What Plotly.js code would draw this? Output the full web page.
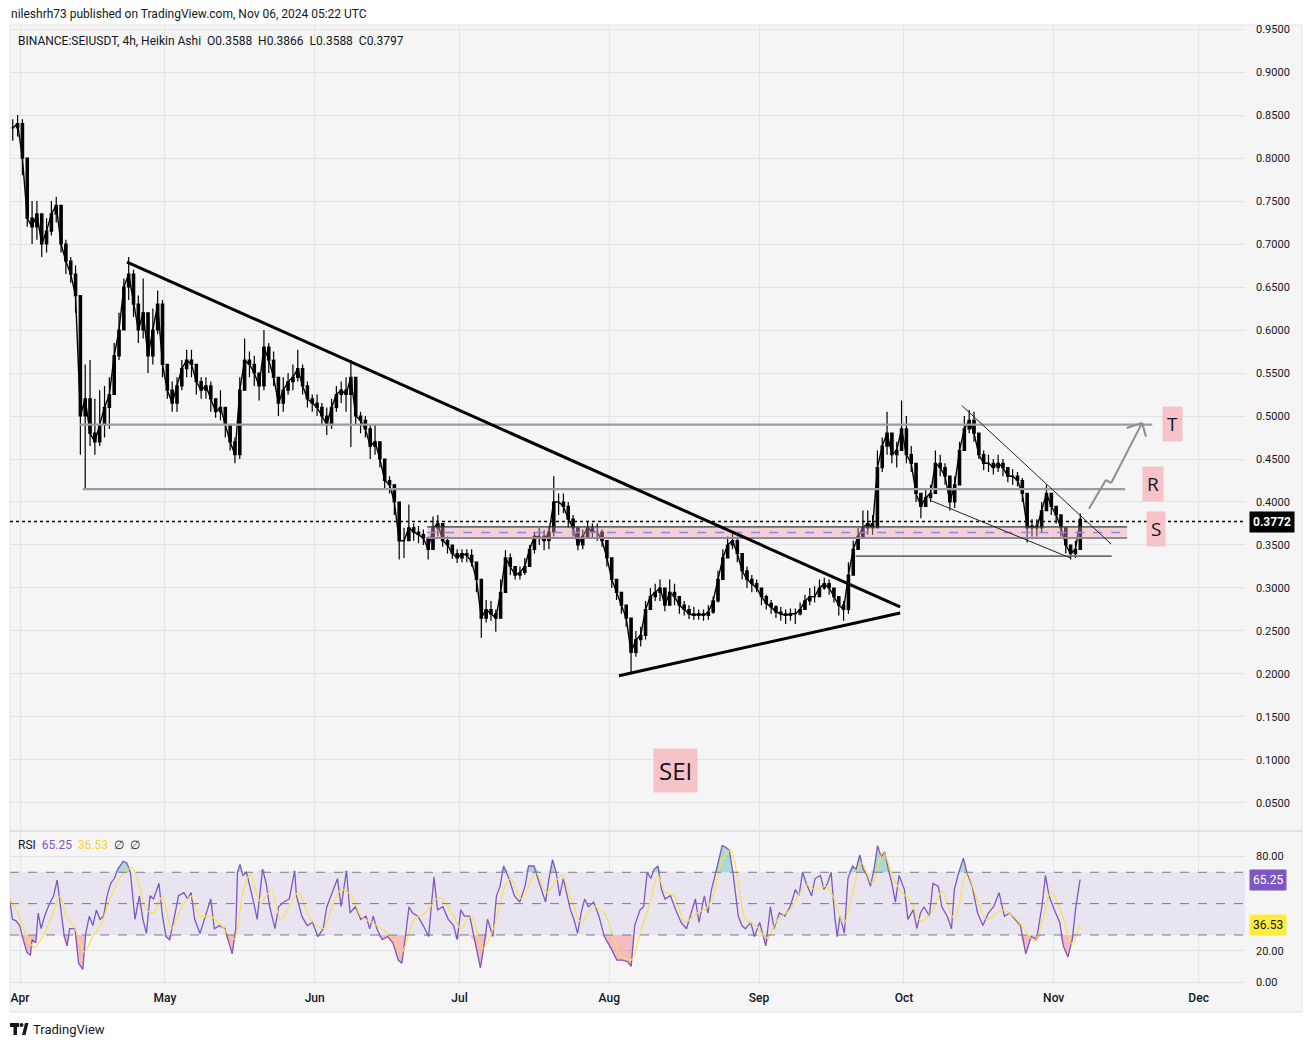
<!DOCTYPE html>
<html><head><meta charset="utf-8">
<script src="https://cdn.plot.ly/plotly-3.0.1.min.js"></script>
<style>html,body{margin:0;padding:0;background:#fff}#chart{width:1312px;height:1047px}</style>
</head><body><div id="chart"></div>
<script>
// ---- DATA (day offsets are days since 2024-04-01 UTC) ----
const firstDay = -2;
const closes = [0.835,0.84,0.80,0.73,0.72,0.735,0.70,0.715,0.735,0.745,0.70,0.68,0.665,0.64,0.50,0.52,0.48,0.47,0.49,0.51,
0.525,0.57,0.60,0.65,0.665,0.63,0.60,0.62,0.57,0.60,0.63,0.56,0.53,0.515,0.535,0.555,0.565,0.56,0.54,0.53,
0.535,0.52,0.505,0.51,0.49,0.47,0.455,0.53,0.565,0.56,0.55,0.535,0.58,0.565,0.545,0.515,0.53,0.54,0.545,0.555,
0.535,0.52,0.515,0.51,0.50,0.49,0.51,0.525,0.53,0.525,0.545,0.50,0.495,0.485,0.465,0.47,0.45,0.425,0.42,0.40,
0.355,0.355,0.37,0.365,0.362,0.358,0.345,0.37,0.375,0.355,0.35,0.34,0.335,0.34,0.338,0.33,0.31,0.265,0.275,0.27,
0.265,0.295,0.335,0.325,0.315,0.318,0.325,0.345,0.36,0.36,0.355,0.365,0.40,0.40,0.395,0.38,0.37,0.35,0.36,0.37,
0.365,0.365,0.355,0.335,0.31,0.295,0.28,0.265,0.225,0.24,0.245,0.275,0.29,0.295,0.30,0.28,0.295,0.29,0.28,0.275,
0.27,0.268,0.27,0.268,0.272,0.285,0.31,0.335,0.35,0.355,0.34,0.32,0.31,0.305,0.30,0.29,0.282,0.278,0.272,0.27,
0.268,0.27,0.27,0.275,0.285,0.29,0.29,0.30,0.305,0.30,0.29,0.28,0.275,0.315,0.345,0.36,0.37,0.375,0.37,0.44,
0.465,0.48,0.455,0.46,0.485,0.455,0.445,0.41,0.395,0.405,0.41,0.445,0.44,0.43,0.40,0.42,0.46,0.485,0.495,0.48,
0.455,0.445,0.445,0.44,0.445,0.44,0.43,0.43,0.425,0.41,0.37,0.372,0.37,0.39,0.41,0.395,0.385,0.37,0.35,0.34,
0.345,0.3797];
const highs = [0.845,0.85,0.845,0.79,0.75,0.75,0.735,0.73,0.75,0.755,0.745,0.705,0.685,0.675,0.64,0.56,0.565,0.52,0.53,0.535,
0.545,0.585,0.62,0.66,0.685,0.67,0.64,0.66,0.615,0.625,0.646,0.635,0.555,0.54,0.545,0.565,0.577,0.577,0.56,0.545,
0.545,0.54,0.52,0.53,0.51,0.49,0.475,0.545,0.59,0.575,0.57,0.55,0.60,0.585,0.575,0.535,0.545,0.55,0.56,0.577,
0.56,0.54,0.525,0.525,0.515,0.51,0.52,0.535,0.54,0.545,0.565,0.545,0.505,0.50,0.49,0.49,0.47,0.44,0.43,0.42,
0.39,0.37,0.397,0.375,0.372,0.368,0.36,0.383,0.385,0.37,0.36,0.35,0.345,0.345,0.345,0.345,0.33,0.30,0.286,0.285,
0.275,0.31,0.344,0.34,0.325,0.325,0.335,0.35,0.365,0.37,0.367,0.372,0.43,0.41,0.41,0.40,0.385,0.365,0.368,0.377,
0.375,0.375,0.368,0.35,0.325,0.31,0.29,0.28,0.26,0.25,0.255,0.285,0.30,0.305,0.31,0.295,0.31,0.305,0.29,0.285,
0.28,0.278,0.275,0.275,0.28,0.29,0.32,0.345,0.36,0.364,0.36,0.34,0.325,0.315,0.31,0.30,0.292,0.286,0.28,0.278,
0.275,0.276,0.276,0.283,0.292,0.30,0.302,0.31,0.312,0.31,0.30,0.29,0.285,0.33,0.355,0.37,0.39,0.39,0.385,0.46,
0.475,0.505,0.48,0.47,0.518,0.50,0.465,0.445,0.41,0.415,0.42,0.46,0.455,0.445,0.43,0.43,0.47,0.50,0.507,0.505,
0.48,0.46,0.455,0.45,0.455,0.45,0.44,0.438,0.435,0.428,0.40,0.38,0.38,0.40,0.42,0.41,0.395,0.385,0.37,0.35,
0.355,0.3866];
const lows = [0.82,0.825,0.78,0.72,0.70,0.705,0.685,0.69,0.71,0.725,0.69,0.665,0.655,0.62,0.455,0.416,0.465,0.455,0.465,0.475,
0.485,0.53,0.565,0.60,0.635,0.615,0.585,0.59,0.55,0.56,0.595,0.545,0.52,0.505,0.505,0.53,0.545,0.545,0.525,0.52,
0.52,0.505,0.498,0.495,0.475,0.46,0.445,0.45,0.53,0.545,0.535,0.518,0.53,0.55,0.535,0.50,0.505,0.525,0.53,0.54,
0.525,0.51,0.505,0.50,0.49,0.478,0.485,0.505,0.515,0.505,0.464,0.49,0.48,0.475,0.45,0.455,0.44,0.415,0.41,0.385,
0.333,0.335,0.355,0.355,0.352,0.35,0.333,0.355,0.36,0.348,0.34,0.334,0.329,0.33,0.33,0.325,0.295,0.242,0.26,0.262,
0.249,0.27,0.30,0.315,0.31,0.31,0.315,0.325,0.34,0.35,0.344,0.345,0.36,0.385,0.387,0.37,0.36,0.344,0.345,0.36,
0.358,0.355,0.348,0.325,0.30,0.286,0.27,0.255,0.202,0.22,0.232,0.24,0.275,0.285,0.285,0.273,0.28,0.28,0.27,0.268,
0.264,0.263,0.263,0.262,0.263,0.27,0.283,0.315,0.338,0.345,0.33,0.31,0.30,0.295,0.295,0.28,0.275,0.27,0.265,0.262,
0.258,0.262,0.258,0.268,0.275,0.28,0.283,0.29,0.298,0.292,0.283,0.268,0.262,0.27,0.32,0.345,0.36,0.362,0.362,0.37,
0.435,0.455,0.445,0.44,0.46,0.445,0.435,0.40,0.381,0.395,0.40,0.41,0.43,0.42,0.39,0.393,0.42,0.465,0.48,0.47,
0.45,0.437,0.435,0.432,0.435,0.43,0.423,0.42,0.418,0.40,0.353,0.36,0.36,0.365,0.395,0.385,0.375,0.36,0.34,0.333,
0.335,0.3588];

const rsiDays = [-2.29,-1.55,-0.81,-0.07,0.67,1.41,2.15,2.51,3.25,3.77,4.36,5.10,5.84,6.95,7.69,8.43,9.17,9.76,10.28,11.39,
12.13,13.01,13.61,14.35,15.08,15.82,16.56,17.30,18.04,18.78,19.52,20.26,21.37,22.11,22.85,23.81,24.70,25.44,26.18,26.92,
27.66,28.76,29.50,30.24,30.98,31.72,32.83,33.94,34.68,35.42,36.16,37.27,38.38,39.49,40.23,41.33,42.44,43.55,43.92,44.66,
45.03,45.55,46.14,46.88,47.62,48.36,49.10,50.21,50.95,51.69,52.79,53.53,54.64,55.75,56.86,57.23,58.34,59.45,60.56,61.67,
62.78,63.52,64.63,65.74,66.48,67.58,68.32,69.43,70.54,71.65,72.39,73.13,73.87,74.98,76.09,77.20,78.31,79.05,79.79,80.53,
81.27,82.37,83.48,84.59,85.70,86.44,87.55,88.66,89.77,90.51,91.25,91.99,93.10,94.20,95.31,96.05,96.79,97.90,98.64,99.38,
100.12,101.23,102.34,103.45,104.55,105.29,106.40,107.51,108.8,109.51,110.25,110.99,111.73,112.47,113.21,113.95,114.68,115.42,116.16,116.90,
117.64,118.75,119.86,120.97,121.71,122.45,123.56,124.67,125.78,126.52,127.25,128.36,129.10,129.84,130.58,131.32,132.06,132.80,133.54,134.65,
135.76,136.87,137.98,138.72,139.82,140.56,141.67,142.41,143.15,143.89,144.63,145.37,146.11,146.85,147.59,148.18,148.70,149.44,150.18,151.29,
152.03,153.13,153.87,154.39,155.35,156.09,157.20,158.31,159.42,160.53,161.27,162.01,162.75,163.86,164.59,165.70,166.44,167.18,167.92,168.66,
169.18,169.77,170.66,171.40,172.36,173.10,173.84,174.58,175.32,176.06,176.80,177.54,178.28,179.01,179.75,180.49,181.23,181.97,183.08,183.82,
184.93,185.67,186.41,187.15,188.26,189.00,190.11,190.84,191.95,192.84,193.43,194.17,195.28,196.02,197.13,198.24,199.35,200.46,201.57,202.68,
203.79,204.89,206.00,207.11,208.22,209.33,210.44,211.55,212.29,213.03,214.14,215.25,215.99,216.95,217.84,218.58,219.46];
const rsiVals = [55,40,39,36,27,19,17,27,25,44,34,42,48,55,65,48,29,23,34,34,
12,8,31,42,36,46,40,42,55,63,66,72,77,76,70,40,55,40,31,55,
53,63,42,29,27,38,55,57,53,57,40,31,42,53,34,36,34,23,18,34,
70,75,68,70,61,51,40,72,63,48,34,48,51,53,71,55,42,36,38,29,
34,48,57,66,48,71,44,48,40,42,34,42,34,27,29,25,14,12,29,48,
44,42,36,29,67,46,48,40,36,27,46,42,42,25,9,23,40,29,55,61,
74,66,55,51,61,74,74,63,51,66,78,70,55,66,55,46,40,31,44,53,
48,51,42,29,25,21,14,14,13,10,36,46,48,70,66,72,74,59,53,55,
46,38,34,42,53,38,55,44,59,68,78,87,86,84,70,55,42,36,34,38,
29,38,29,23,48,34,44,42,48,59,55,70,63,55,66,68,59,63,70,42,
29,42,31,66,74,72,81,72,68,61,72,87,80,83,72,63,51,68,59,40,
46,34,44,48,42,63,61,48,42,34,59,68,79,70,61,44,36,44,48,57,
42,44,40,36,18,29,27,48,68,55,46,38,23,16,27,48,65.25];

const maDays = [-2.29,-0.44,1.41,2.88,4.73,6.58,8.28,9.54,11.39,13.24,15.08,16.93,18.41,21.0,23.22,24.70,26.18,27.66,29.50,31.35,
33.57,35.42,37.27,39.49,41.70,44.29,46.14,47.62,49.84,52.06,53.90,55.75,57.60,60.19,62.78,64.63,66.48,68.69,70.54,72.76,
74.98,77.20,79.05,81.63,83.85,86.81,89.40,91.25,93.47,95.68,98.27,100.12,101.60,103.82,106.77,108.99,112.10,114.31,116.16,118.75,
120.97,122.82,124.30,126.52,128.36,130.21,132.06,133.54,135.39,137.61,140.19,142.41,143.89,145.37,147.22,148.70,150.18,152.39,154.61,156.83,
159.42,162.75,164.59,166.81,168.29,170.51,172.36,174.21,176.43,178.65,180.86,182.34,184.56,186.41,188.63,190.84,193.43,196.02,197.87,200.09,
203.42,206.00,207.84,210.07,211.92,213.40,215.62,217.84,219.32];
const maVals = [54,44,29,22,29,42,55,42,34,19,29,38,51,68,73,61,46,44,55,34,
48,55,42,42,36,27,57,69,51,59,40,48,57,40,34,48,59,55,42,38,
34,27,19,40,44,54,44,34,42,21,36,59,66,53,70,57,68,51,38,48,
44,29,17,14,31,48,68,57,55,38,44,48,59,78,84,63,40,36,28,40,
46,62,59,61,55,37,57,76,63,83,66,58,51,39,44,58,40,70,55,40,
46,41,34,26,42,58,44,24,36.53];

const monthTicks = ['2024-04-01','2024-05-01','2024-06-01','2024-07-01','2024-08-01','2024-09-01','2024-10-01','2024-11-01','2024-12-01'];
const monthLabels = ['Apr','May','Jun','Jul','Aug','Sep','Oct','Nov','Dec'];
const priceTicks = [0.05,0.10,0.15,0.20,0.25,0.30,0.35,0.40,0.45,0.50,0.55,0.60,0.65,0.70,0.75,0.80,0.85,0.90,0.95];
const rsiTicks = [0,20,40,60,80];
const rsiTickLabels = ['0.00','20.00','','','80.00']; // 40/60 are covered by the value badges in the reference
const lastPrice = 0.3772;
const rsiLast = 65.25, maLast = 36.53;

// author drawings: [day, price] endpoints
const downTrend = [[22.15,0.679],[182.2,0.278]];
const upTrend = [[124.0,0.198],[182.2,0.271]];
const targetLevel = {from:12.4, to:234.4, price:0.49};
const resistLevel = {from:13.0, to:228.8, price:0.415};
const supportZone = {from:84.3, to:229.2, low:0.358, high:0.371, mid:0.3645};
const baseLevel = {from:173.0, to:226.0, price:0.337};
const wedgeUpper = [[195.0,0.512],[225.9,0.351]];
const wedgeLower = [[188.4,0.402],[217.4,0.335]];
const projection = [[221.3,0.392],[224.8,0.4256],[225.9,0.422],[232.3,0.492]];
const arrowBarbs = [[229.1,0.486],[233.1,0.476]];
const levelLabels = [{t:'T',d:238.5,p:0.4907},{t:'R',d:234.6,p:0.421},{t:'S',d:235.2,p:0.3686}];
const titleLabel = {t:'SEI', d:135.6, p:0.0872};

// ---- helpers ----
const t0 = Date.UTC(2024,3,1);
const toDate = d => new Date(t0 + d*86400000).toISOString().slice(0,19).replace('T',' ');
const PX = x => (x-10)/1235;      // layout-only pixel helpers for decorations
const PY = y => (985-y)/960;
const FONT = 'Roboto, "Liberation Sans", sans-serif';

// candles (Heikin Ashi look: open = previous close)
const cx=[],co=[],ch=[],cl=[],cc=[];
for(let i=0;i<closes.length;i++){
  const o = i===0 ? closes[0] : closes[i-1];
  const c = closes[i];
  cx.push(toDate(firstDay+i+0.5)); co.push(o); cc.push(c);
  ch.push(Math.max(highs[i],o,c)); cl.push(Math.min(lows[i],o,c));
}
const rsiX = rsiDays.map(toDate), maX = maDays.map(toDate);

const traces = [
  {type:'scatter', mode:'lines', x:cx, y:cc, xaxis:'x', yaxis:'y', line:{color:'#000',width:1.4}, hoverinfo:'skip', showlegend:false},
  {type:'candlestick', x:cx, open:co, high:ch, low:cl, close:cc, xaxis:'x', yaxis:'y',
   increasing:{line:{color:'#000',width:1.2}, fillcolor:'#000'},
   decreasing:{line:{color:'#000',width:1.2}, fillcolor:'#000'},
   whiskerwidth:0, hoverinfo:'skip', showlegend:false},
  // oversold fill
  {type:'scatter', mode:'lines', x:rsiX, y:rsiVals.map(()=>30), xaxis:'x', yaxis:'y2', line:{width:0}, hoverinfo:'skip', showlegend:false},
  {type:'scatter', mode:'lines', x:rsiX, y:rsiVals.map(v=>Math.min(v,30)), xaxis:'x', yaxis:'y2', line:{width:0}, fill:'tonexty', fillcolor:'rgba(242,54,69,0.30)', hoverinfo:'skip', showlegend:false},
  // overbought fill
  {type:'scatter', mode:'lines', x:rsiX, y:rsiVals.map(()=>70), xaxis:'x', yaxis:'y2', line:{width:0}, hoverinfo:'skip', showlegend:false},
  {type:'scatter', mode:'lines', x:rsiX, y:rsiVals.map(v=>Math.max(v,70)), xaxis:'x', yaxis:'y2', line:{width:0}, fill:'tonexty', fillcolor:'rgba(8,153,129,0.30)', hoverinfo:'skip', showlegend:false},
  {type:'scatter', mode:'lines', x:rsiX, y:rsiVals, xaxis:'x', yaxis:'y2', line:{color:'#7e57c2',width:1.3}, hoverinfo:'skip', showlegend:false},
  {type:'scatter', mode:'lines', x:maX, y:maVals, xaxis:'x', yaxis:'y2', line:{color:'#f9e04b',width:1.2, shape:'spline', smoothing:0.8}, hoverinfo:'skip', showlegend:false}
];

const shapes = [];
// chart frame background
shapes.push({type:'rect', xref:'paper', yref:'paper', x0:PX(10), x1:PX(1302), y0:PY(1012), y1:PY(25), fillcolor:'#f5f5f5', line:{color:'#e2e3e8',width:1}, layer:'below'});
// pane separator
shapes.push({type:'line', xref:'paper', yref:'paper', x0:PX(10), x1:PX(1302), y0:PY(831), y1:PY(831), line:{color:'#d7d8e2',width:1.5}});
// RSI band & dashed levels
shapes.push({type:'rect', xref:'paper', yref:'y2', x0:0, x1:1, y0:30, y1:70, fillcolor:'rgba(126,87,194,0.10)', line:{width:0}, layer:'below'});
[70,50,30].forEach(v=>shapes.push({type:'line', xref:'paper', yref:'y2', x0:0, x1:1, y0:v, y1:v, line:{color:'#787b86',width:1,dash:'dash'}}));
function seg(a,b,color,width,dash){shapes.push({type:'line', xref:'x', yref:'y', x0:toDate(a[0]), y0:a[1], x1:toDate(b[0]), y1:b[1], line:{color:color,width:width,dash:dash||'solid'}});}
// support zone
shapes.push({type:'rect', xref:'x', yref:'y', x0:toDate(supportZone.from), x1:toDate(supportZone.to), y0:supportZone.low, y1:supportZone.high, fillcolor:'rgba(242,150,165,0.40)', line:{width:0}});
seg([supportZone.from,supportZone.high],[supportZone.to,supportZone.high],'#333',1.2);
seg([supportZone.from,supportZone.low],[supportZone.to,supportZone.low],'#8a8d96',2);
seg([supportZone.from,supportZone.mid],[supportZone.to,supportZone.mid],'#7d8ff0',1.6,'dash');
// levels
seg([targetLevel.from,targetLevel.price],[targetLevel.to,targetLevel.price],'#9a9ca5',2.2);
seg([resistLevel.from,resistLevel.price],[resistLevel.to,resistLevel.price],'#9a9ca5',2.2);
seg([baseLevel.from,baseLevel.price],[baseLevel.to,baseLevel.price],'#6b6d75',1.6);
// trendlines
seg(downTrend[0],downTrend[1],'#000',3);
seg(upTrend[0],upTrend[1],'#000',3);
seg(wedgeUpper[0],wedgeUpper[1],'#222',1);
seg(wedgeLower[0],wedgeLower[1],'#222',1);
// projection arrow
for(let i=0;i<projection.length-1;i++) seg(projection[i],projection[i+1],'#8a8d96',2);
arrowBarbs.forEach(b=>seg(projection[projection.length-1],b,'#8a8d96',2));
// last price dotted line
shapes.push({type:'line', xref:'paper', yref:'y', x0:0, x1:1, y0:lastPrice, y1:lastPrice, line:{color:'#000',width:1.5,dash:'dot'}});
// TradingView logo mark
shapes.push({type:'rect', xref:'paper', yref:'paper', x0:PX(10), x1:PX(19), y0:PY(1027), y1:PY(1023), fillcolor:'#131722', line:{width:0}});
shapes.push({type:'rect', xref:'paper', yref:'paper', x0:PX(13.5), x1:PX(17), y0:PY(1035), y1:PY(1023), fillcolor:'#131722', line:{width:0}});
shapes.push({type:'circle', xref:'paper', yref:'paper', x0:PX(19.5), x1:PX(23.5), y0:PY(1027), y1:PY(1023), fillcolor:'#131722', line:{width:0}});
shapes.push({type:'path', xref:'paper', yref:'paper', path:`M ${PX(22)} ${PY(1035)} L ${PX(25)} ${PY(1023)} L ${PX(28.5)} ${PY(1023)} L ${PX(25.5)} ${PY(1035)} Z`, fillcolor:'#131722', line:{width:0}});

const annotations = [
  {xref:'paper', yref:'paper', x:PX(9), y:PY(14), xanchor:'left', yanchor:'middle', showarrow:false,
   text:'nileshrh73 published on TradingView.com, Nov 06, 2024 05:22 UTC', font:{family:FONT,size:12,color:'#131722'}},
  {xref:'paper', yref:'paper', x:PX(16), y:PY(41), xanchor:'left', yanchor:'middle', showarrow:false,
   text:'BINANCE:SEIUSDT, 4h, Heikin Ashi  O0.3588  H0.3866  L0.3588  C0.3797', font:{family:FONT,size:12,color:'#131722'}},
  {xref:'paper', yref:'paper', x:PX(16), y:PY(845), xanchor:'left', yanchor:'middle', showarrow:false,
   text:'RSI  <span style="color:#7e57c2">65.25</span>  <span style="color:#f2d43a">36.53</span>  ∅  ∅', font:{family:FONT,size:12,color:'#131722'}},
  {xref:'paper', yref:'paper', x:PX(31), y:PY(1029), xanchor:'left', yanchor:'middle', showarrow:false,
   text:'TradingView', font:{family:FONT,size:13,color:'#131722'}},
  {xref:'paper', yref:'y', x:PX(1249), y:lastPrice, xanchor:'left', yanchor:'middle', showarrow:false,
   text:'<b>'+lastPrice.toFixed(4)+'</b>', bgcolor:'#000', borderpad:3, font:{family:FONT,size:12,color:'#fff'}},
  {xref:'paper', yref:'y2', x:PX(1249), y:rsiLast, xanchor:'left', yanchor:'middle', showarrow:false,
   text:rsiLast.toFixed(2), bgcolor:'#7e57c2', borderpad:3, font:{family:FONT,size:12,color:'#fff'}},
  {xref:'paper', yref:'y2', x:PX(1249), y:maLast, xanchor:'left', yanchor:'middle', showarrow:false,
   text:maLast.toFixed(2), bgcolor:'#ffeb3b', borderpad:3, font:{family:FONT,size:12,color:'#131722'}},
  {xref:'x', yref:'y', x:toDate(titleLabel.d), y:titleLabel.p, showarrow:false, text:titleLabel.t,
   bgcolor:'#f6c3c9', borderpad:5, font:{family:'"Open Sans", sans-serif',size:24,color:'#131722'}}
];
levelLabels.forEach(l=>annotations.push({xref:'x', yref:'y', x:toDate(l.d), y:l.p, showarrow:false, text:l.t,
  bgcolor:'#f6c3c9', borderpad:4, font:{family:'"Open Sans", sans-serif',size:19,color:'#131722'}}));

const layout = {
  width:1312, height:1047, margin:{l:10,r:67,t:25,b:62},
  paper_bgcolor:'#ffffff', plot_bgcolor:'rgba(0,0,0,0)', showlegend:false, hovermode:false,
  font:{family:FONT,size:11,color:'#131722'},
  xaxis:{type:'date', anchor:'y2', range:[toDate(-2.07),toDate(253.6)], tickvals:monthTicks, ticktext:monthLabels,
    showgrid:true, gridcolor:'#e4e4e6', gridwidth:1, zeroline:false, showline:false, ticks:'',
    ticklabelstandoff:4, tickfont:{family:FONT,size:12,color:'#131722',weight:500}, rangeslider:{visible:false}, fixedrange:true},
  yaxis:{domain:[0.1615,1], anchor:'x', side:'right', range:[0.0186,0.9547], tickvals:priceTicks,
    ticktext:priceTicks.map(v=>v.toFixed(4)), showgrid:true, gridcolor:'#e4e4e6', zeroline:false, ticks:'',
    ticklabelstandoff:10, tickfont:{family:FONT,size:11,color:'#131722'}, fixedrange:true},
  yaxis2:{domain:[0,0.1594], anchor:'x', side:'right', range:[-1.9,95.7], tickvals:rsiTicks,
    ticktext:rsiTickLabels, showgrid:true, gridcolor:'#e4e4e6', zeroline:false, ticks:'',
    ticklabelstandoff:10, tickfont:{family:FONT,size:11,color:'#131722'}, fixedrange:true},
  shapes:shapes, annotations:annotations
};
Plotly.newPlot('chart', traces, layout, {staticPlot:true, displayModeBar:false});
</script></body></html>
